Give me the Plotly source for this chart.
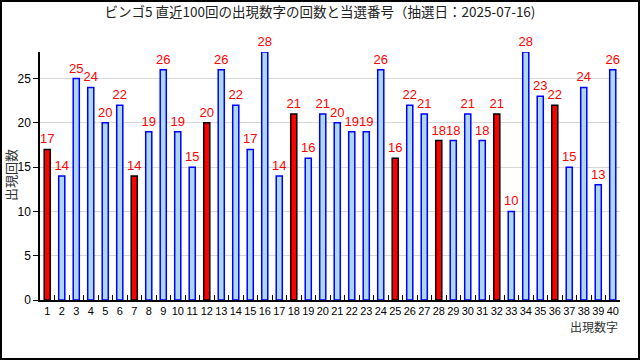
import plotly.graph_objects as go

numbers = [str(i) for i in range(1, 41)]
counts = [17, 14, 25, 24, 20, 22, 14, 19, 26, 19, 15, 20, 26, 22, 17, 28, 14, 21, 16, 21,
          20, 19, 19, 26, 16, 22, 21, 18, 18, 21, 18, 21, 10, 28, 23, 22, 15, 24, 13, 26]
winning = [1, 7, 12, 18, 25, 28, 32, 36]
title_text = "ビンゴ5 直近100回の出現数字の回数と当選番号（抽選日：2025-07-16)"

fill = ["red" if int(n) in winning else "lightblue" for n in numbers]
edge = ["black" if int(n) in winning else "blue" for n in numbers]

W, H = 640, 360
L, R, T, B = 40, 20, 52, 60
pw, ph = W - L - R, H - T - B

def px(x):
    return (x - L) / pw

def py(y):
    return (H - B - y) / ph

font = "Liberation Sans, DejaVu Sans, Noto Sans CJK JP"

fig = go.Figure(go.Bar(
    x=numbers, y=counts, width=0.42,
    marker=dict(color=fill, line=dict(color=edge, width=1.5)),
    text=[str(c) for c in counts], textposition="outside",
    textfont=dict(color="red", size=13, family="Liberation Sans Narrow, Liberation Sans"),
    constraintext="none",
    cliponaxis=False,
))

fig.update_layout(
    width=W, height=H,
    margin=dict(l=L, r=R, t=T, b=B),
    paper_bgcolor="white", plot_bgcolor="white",
    showlegend=False,
    font=dict(family=font, color="black", size=11),
    title=dict(text=title_text, x=0.5, xanchor="center", y=1 - 12 / H, yanchor="middle",
               font=dict(size=13.5, family="Noto Sans CJK JP", color="#222")),
    xaxis=dict(type="category", range=[-0.5, 39.5], tickson="boundaries", ticks="inside",
               ticklen=5, tickcolor="black", showline=True, linecolor="black", linewidth=1.5,
               showgrid=False, tickfont=dict(size=11), tickangle=0),
    yaxis=dict(range=[0, 28], tickvals=[0, 5, 10, 15, 20, 25], ticks="outside", ticklen=5,
               tickcolor="black", showline=True, linecolor="black", linewidth=1.5,
               showgrid=True, gridcolor="#d8d8d8", gridwidth=1, zeroline=False,
               tickfont=dict(size=12)),
)

fig.add_annotation(text="出現数字", xref="paper", yref="paper", x=1, y=py(326),
                   xanchor="right", yanchor="middle", showarrow=False,
                   font=dict(size=12, family="Noto Sans CJK JP", color="#333"))
fig.add_annotation(text="出現回数", xref="paper", yref="paper", x=px(10), y=py(175),
                   xanchor="center", yanchor="middle", textangle=-90, showarrow=False,
                   font=dict(size=13, family="Noto Sans CJK JP", color="#333"))
fig.add_shape(type="rect", xref="paper", yref="paper",
              x0=px(1), x1=px(639), y0=py(359), y1=py(1),
              line=dict(color="black", width=2), fillcolor="rgba(0,0,0,0)", layer="above")

fig.write_html("out.html", config={"displayModeBar": False},
               post_script="document.body.style.margin='0';")
